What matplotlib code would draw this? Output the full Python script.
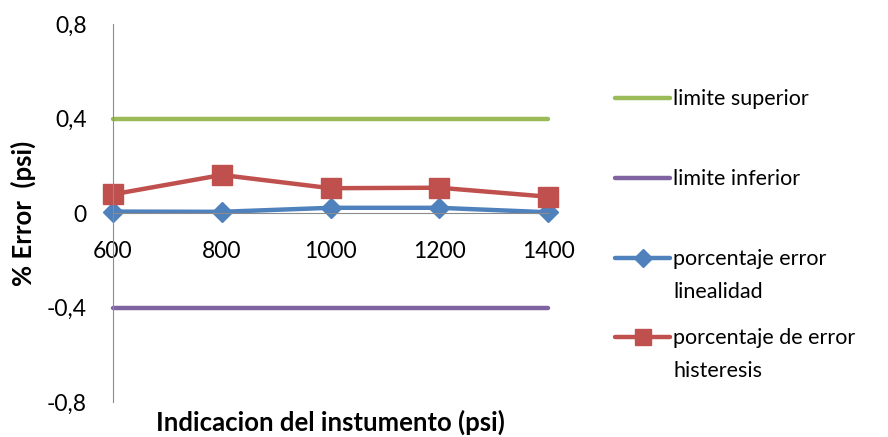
import matplotlib
matplotlib.use("Agg")
import matplotlib.pyplot as plt
from matplotlib.lines import Line2D

# categories and series
indicacion = ["600", "800", "1000", "1200", "1400"]
limite_superior = [0.4, 0.4, 0.4, 0.4, 0.4]
limite_inferior = [-0.4, -0.4, -0.4, -0.4, -0.4]
error_linealidad = [0.006, 0.005, 0.022, 0.022, 0.003]
error_histeresis = [0.079, 0.161, 0.105, 0.107, 0.069]
yticks = [-0.8, -0.4, 0, 0.4, 0.8]
ytick_labels = ["-0,8", "-0,4", "0", "0,4", "0,8"]

plt.rcParams['font.family'] = ['Lato', 'DejaVu Sans']

W, H = 888, 437
fig = plt.figure(figsize=(W / 100, H / 100), dpi=100)
ax = fig.add_axes([113 / W, 1 - 402 / H, 435 / W, 378 / H])

x = list(range(len(indicacion)))
series = [
    (limite_superior, '#9BBB59', None, 0, 'limite superior'),
    (limite_inferior, '#8064A2', None, 0, 'limite inferior'),
    (error_linealidad, '#4F81BD', 'D', 10.5, 'porcentaje error\nlinealidad'),
    (error_histeresis, '#C0504D', 's', 14, 'porcentaje de error\nhisteresis'),
]
for vals, col, mk, ms, lab in series:
    ax.plot(x, vals, color=col, lw=3.2, marker=mk, markersize=ms,
            solid_capstyle='round', solid_joinstyle='round', clip_on=False)

ax.set_xlim(0, len(indicacion) - 1)
ax.set_ylim(-0.8, 0.8)
ax.set_yticks(yticks)
ax.set_yticklabels(ytick_labels)
ax.set_xticks(x)
ax.set_xticklabels(indicacion)
ax.tick_params(axis='y', length=0, pad=19, labelsize=16.5)
ax.tick_params(axis='x', length=0, pad=20, labelsize=16.5)

for s in ['top', 'right']:
    ax.spines[s].set_visible(False)
ax.spines['bottom'].set_position(('data', 0))
ax.spines['bottom'].set_color('#8c8c8c')
ax.spines['left'].set_color('#8c8c8c')
ax.set_axisbelow(True)

ax.set_xlabel('Indicacion del instumento (psi)', fontsize=18.5, fontweight='bold')
ax.xaxis.set_label_coords(0.5, -0.02)
ax.set_ylabel('% Error  (psi)', fontsize=18.5, fontweight='bold')
ax.yaxis.set_label_coords(-0.178, 0.5)

# legend drawn entry by entry so the handle sits on the first text line
legend_y = [98, 178, 258, 337]
for (vals, col, mk, ms, lab), yp in zip(series, legend_y):
    yf = 1 - yp / H
    fig.add_artist(Line2D([615 / W, 670 / W], [yf, yf], transform=fig.transFigure,
                          color=col, lw=3.2, solid_capstyle='round'))
    if mk:
        fig.add_artist(Line2D([642.5 / W], [yf], transform=fig.transFigure,
                              color=col, marker=mk, markersize=ms * 0.85, lw=0))
    fig.text(673 / W, 1 - (yp - 9) / H, lab, fontsize=15.5, va='top',
             ha='left', linespacing=1.8)

fig.savefig('out.png', dpi=100)
